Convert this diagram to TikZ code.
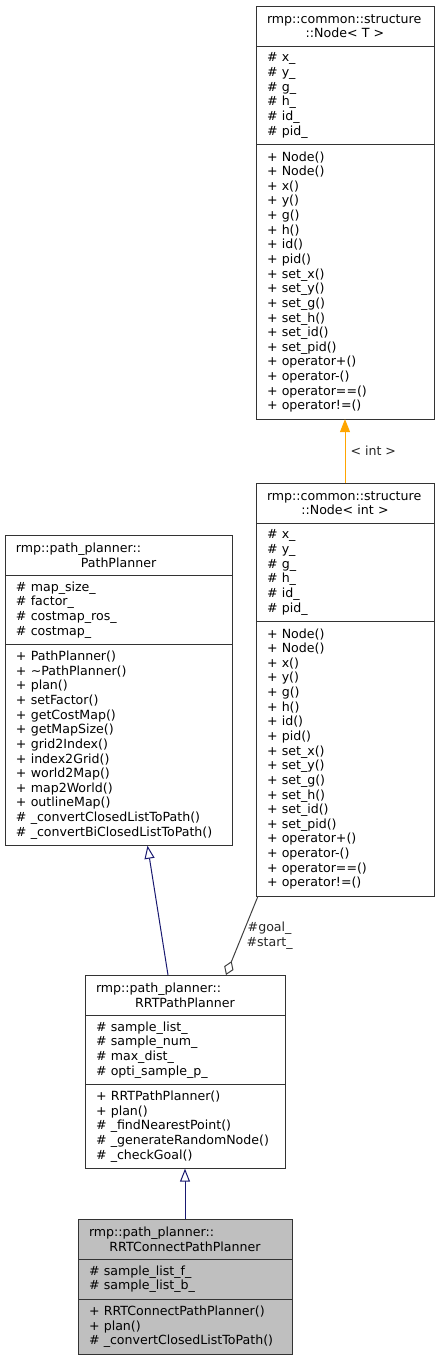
\documentclass[tikz,border=0pt]{standalone}
\usepackage{fontspec}
\setmainfont{DejaVu Sans}
\usetikzlibrary{arrows.meta,positioning}
\definecolor{inhblue}{HTML}{191970}
\definecolor{tplorange}{HTML}{FFA500}
\definecolor{edgegray}{HTML}{404040}
\definecolor{curfill}{HTML}{BFBFBF}
\hyphenpenalty=10000

\begin{document}
\begin{tikzpicture}[x=1pt,y=-1pt,
  every node/.style={font=\fontsize{12.6pt}{14.63pt}\selectfont},
  cls/.style={draw=black!80,fill=white,line width=1pt,outer sep=0pt,inner xsep=11pt,inner ysep=2pt,align=left},
  head/.style={cls,minimum height=40pt},
  sect/.style={cls,minimum height=#1*14.63pt+11pt},
  lbl/.style={text=black!85},
  inh/.style={-{Triangle[open,length=13pt,width=10pt,fill=white]},inhblue,line width=1pt},
  tpl/.style={-{Triangle[length=13pt,width=10pt]},tplorange,line width=1pt},
  aggr/.style={-{Diamond[open,length=15pt,width=10pt,fill=white]},edgegray,line width=1pt}]
\useasboundingbox (0,0) rectangle (440,1360);
% template class
\node[head,text width=156pt,anchor=north west] (nodeT) at (256,6)
  {rmp::common::structure\\\makebox[\hsize][c]{::Node< T >}};
\node[sect=6,text width=156pt,below=0pt of nodeT] (nodeTattr)
  {\# x\_\\\# y\_\\\# g\_\\\# h\_\\\# id\_\\\# pid\_};
\node[sect=18,text width=156pt,below=0pt of nodeTattr] (nodeTops)
  {+ Node()\\+ Node()\\+ x()\\+ y()\\+ g()\\+ h()\\+ id()\\+ pid()\\+ set\_x()\\+ set\_y()\\+ set\_g()\\+ set\_h()\\+ set\_id()\\+ set\_pid()\\+ operator+()\\+ operator-()\\+ operator==()\\+ operator!=()};
% instance
\node[head,text width=156pt,anchor=north west] (nodeI) at (256,483)
  {rmp::common::structure\\\makebox[\hsize][c]{::Node< int >}};
\node[sect=6,text width=156pt,below=0pt of nodeI] (nodeIattr)
  {\# x\_\\\# y\_\\\# g\_\\\# h\_\\\# id\_\\\# pid\_};
\node[sect=18,text width=156pt,below=0pt of nodeIattr] (nodeIops)
  {+ Node()\\+ Node()\\+ x()\\+ y()\\+ g()\\+ h()\\+ id()\\+ pid()\\+ set\_x()\\+ set\_y()\\+ set\_g()\\+ set\_h()\\+ set\_id()\\+ set\_pid()\\+ operator+()\\+ operator-()\\+ operator==()\\+ operator!=()};
% base planner
\node[head,text width=205pt,anchor=north west] (pp) at (5,535)
  {rmp::path\_planner::\\\makebox[\hsize][c]{PathPlanner}};
\node[sect=4,text width=205pt,below=0pt of pp] (ppattr)
  {\# map\_size\_\\\# factor\_\\\# costmap\_ros\_\\\# costmap\_};
\node[sect=13,text width=205pt,below=0pt of ppattr] (ppops)
  {+ PathPlanner()\\+ \textasciitilde PathPlanner()\\+ plan()\\+ setFactor()\\+ getCostMap()\\+ getMapSize()\\+ grid2Index()\\+ index2Grid()\\+ world2Map()\\+ map2World()\\+ outlineMap()\\\# \_convertClosedListToPath()\\\# \_convertBiClosedListToPath()};
% rrt
\node[head,text width=178pt,anchor=north west] (rrt) at (85,975)
  {rmp::path\_planner::\\\makebox[\hsize][c]{RRTPathPlanner}};
\node[sect=4,text width=178pt,below=0pt of rrt] (rrtattr)
  {\# sample\_list\_\\\# sample\_num\_\\\# max\_dist\_\\\# opti\_sample\_p\_};
\node[sect=5,text width=178pt,below=0pt of rrtattr] (rrtops)
  {+ RRTPathPlanner()\\+ plan()\\\# \_findNearestPoint()\\\# \_generateRandomNode()\\\# \_checkGoal()};
% rrt connect
\node[head,fill=curfill,text width=192pt,anchor=north west] (rrtc) at (78,1219)
  {rmp::path\_planner::\\\makebox[\hsize][c]{RRTConnectPathPlanner}};
\node[sect=2,fill=curfill,text width=192pt,below=0pt of rrtc] (rrtcattr)
  {\# sample\_list\_f\_\\\# sample\_list\_b\_};
\node[sect=3,fill=curfill,text width=192pt,below=0pt of rrtcattr] (rrtcops)
  {+ RRTConnectPathPlanner()\\+ plan()\\\# \_convertClosedListToPath()};
% relations
\draw[tpl] (nodeI.north) -- node[lbl,right,inner sep=5pt] {< int >} (nodeTops.south);
\draw[inh] ([xshift=-17pt]rrt.north) -- ([xshift=29pt]ppops.south);
\draw[aggr] ([xshift=2pt]nodeIops.south west) -- node[lbl,right,align=center,inner sep=4pt] {\#goal\_\\\#start\_} ([xshift=41pt]rrt.north);
\draw[inh] (rrtc.north) -- (rrtops.south);
\end{tikzpicture}
\end{document}
